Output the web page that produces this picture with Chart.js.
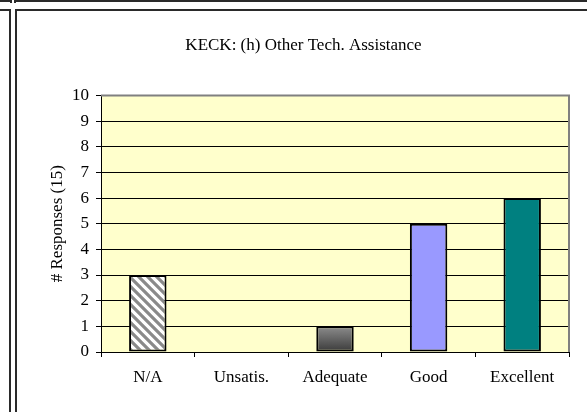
<!DOCTYPE html>
<html>
<head>
<meta charset="utf-8">
<script src="https://cdn.jsdelivr.net/npm/chart.js@4"></script>
<style>
	body { margin: 0; background: #fff; }
	#page { position: relative; width: 587px; height: 412px; overflow: hidden; background: #fff; }
	.ln { position: absolute; background: #2a2a2a; }
	#wrap { position: absolute; left: 17px; top: 11px; width: 570px; height: 401px; }
</style>
</head>
<body>
<div id="page">
	<div class="ln" style="left:0;top:0;width:12px;height:2px"></div>
	<div class="ln" style="left:10px;top:0;width:2px;height:3px"></div>
	<div class="ln" style="left:14px;top:0;width:573px;height:2px"></div>
	<div class="ln" style="left:14px;top:0;width:2px;height:3px"></div>
	<div class="ln" style="left:0;top:9px;width:11px;height:2px"></div>
	<div class="ln" style="left:9px;top:9px;width:2px;height:403px"></div>
	<div class="ln" style="left:15px;top:9px;width:572px;height:2px"></div>
	<div class="ln" style="left:15px;top:9px;width:2px;height:403px"></div>
	<div id="wrap"><canvas id="myChart" width="570" height="401"></canvas></div>
</div>
<script>
const chart_title = 'KECK: (h) Other Tech. Assistance';
const y_title = '# Responses (15)';
const categories = ['N/A', 'Unsatis.', 'Adequate', 'Good', 'Excellent'];
const responses = [3, 0, 1, 5, 6];
const y_ticks = [0, 1, 2, 3, 4, 5, 6, 7, 8, 9, 10];

const serif = "'Liberation Serif', 'Times New Roman', serif";

// hatched fill for N/A
function makeHatch() {
	const c = document.createElement('canvas');
	c.width = 9;
	c.height = 9;
	const g = c.getContext('2d');
	g.fillStyle = '#fff';
	g.fillRect(0, 0, 9, 9);
	g.strokeStyle = '#8a8a8a';
	g.lineWidth = 3.2;
	g.beginPath();
	g.moveTo(-2, -2); g.lineTo(11, 11);
	g.moveTo(-11, -2); g.lineTo(2, 11);
	g.moveTo(7, -2); g.lineTo(20, 11);
	g.stroke();
	return g.createPattern(c, 'repeat');
}
const hatch = makeHatch();

function barColor(context) {
	const i = context.dataIndex;
	if (i === 0) return hatch;
	if (i === 2) {
		const y = context.chart.scales.y;
		if (!y) return '#606060';
		const g = context.chart.ctx.createLinearGradient(0, y.getPixelForValue(responses[i]), 0, y.getPixelForValue(0));
		g.addColorStop(0, '#8c8c8c');
		g.addColorStop(1, '#3a3a3a');
		return g;
	}
	if (i === 3) return '#9999ff';
	if (i === 4) return '#008080';
	return '#fff';
}

const plotArea = {
	id: 'plotArea',
	beforeDraw(chart) {
		const { ctx, chartArea: a } = chart;
		ctx.save();
		ctx.fillStyle = '#ffffcc';
		ctx.fillRect(a.left, a.top, a.right - a.left, a.bottom - a.top);
		ctx.restore();
	},
	beforeDatasetsDraw(chart) {
		const { ctx, chartArea: a } = chart;
		ctx.save();
		ctx.strokeStyle = '#808080';
		ctx.lineWidth = 2;
		ctx.beginPath();
		ctx.moveTo(a.left, a.top);
		ctx.lineTo(a.right, a.top);
		ctx.lineTo(a.right, a.bottom);
		ctx.stroke();
		ctx.restore();
	},
};

const ctx = document.getElementById('myChart').getContext('2d');
new Chart(ctx, {
	type: 'bar',
	data: {
		labels: categories,
		datasets: [
			{
				data: responses,
				backgroundColor: barColor,
				borderColor: '#000',
				borderWidth: (c) => (responses[c.dataIndex] ? 2 : 0),
				borderSkipped: false,
				barPercentage: 0.4,
				categoryPercentage: 1,
			},
		],
	},
	options: {
		responsive: false,
		animation: false,
		layout: { padding: { left: 21, right: 18, top: 0, bottom: 0 } },
		plugins: {
			legend: { display: false },
			tooltip: { enabled: false },
			title: {
				display: true,
				text: chart_title,
				color: '#000',
				font: { family: serif, size: 17, weight: 'normal' },
				padding: { top: 24, bottom: 40 },
			},
		},
		scales: {
			x: {
				grid: { display: true, drawOnChartArea: false, drawTicks: true, tickLength: 5, color: '#000', offset: true },
				border: { color: '#000', width: 1 },
				ticks: { color: '#000', font: { family: serif, size: 17 }, padding: 10, maxRotation: 0 },
				afterFit: (s) => { s.height = 60; },
			},
			y: {
				min: 0,
				max: 10,
				afterBuildTicks: (s) => { s.ticks = y_ticks.map((v) => ({ value: v })); },
				grid: { color: '#000', tickLength: 5 },
				border: { color: '#000', width: 1 },
				ticks: { color: '#000', font: { family: serif, size: 17 }, padding: 7 },
				title: {
					display: true,
					text: y_title,
					color: '#000',
					font: { family: serif, size: 17 },
					padding: { top: 9, bottom: 0 },
				},
				afterFit: (s) => { s.width = 63; },
			},
		},
	},
	plugins: [plotArea],
});
</script>
</body>
</html>
